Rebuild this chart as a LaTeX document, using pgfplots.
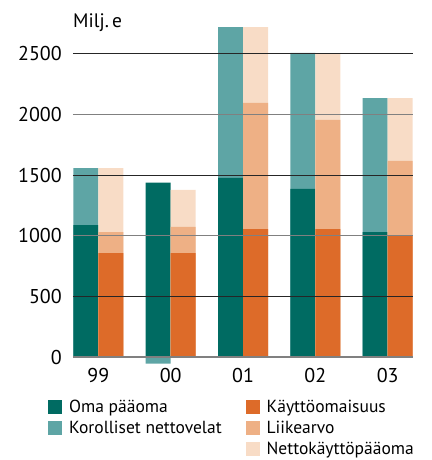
\documentclass[border=0pt]{standalone}
\usepackage{pgfplots}
\pgfplotsset{compat=1.18}
\usepackage{fontspec}
\setmainfont{PT Sans}
\definecolor{dteal}{HTML}{006B62}
\definecolor{lteal}{HTML}{5EA5A5}
\definecolor{orng}{HTML}{DD6B29}
\definecolor{lorng}{HTML}{EEB085}
\definecolor{peach}{HTML}{F8DCC6}
\begin{document}
\begin{tikzpicture}
\useasboundingbox (-73pt,-95.7pt) rectangle (358pt,364.3pt);
\begin{axis}[
  at={(0,0)}, anchor=south west,
  scale only axis, width=340pt, height=340.9pt,
  xmin=-0.35, xmax=4.35, ymin=-60, ymax=2750,
  axis line style={draw=none},
  major tick length=0pt,
  xtick={0,1,2,3,4}, xticklabels={99,00,01,02,03},
  ytick={500,1500,2500},
  extra y ticks={0,1000,2000},
  ymajorgrids,
  grid style={black!85, line width=0.9pt},
  extra y tick style={grid style={black!50, line width=1.3pt}},
  axis on top,
  /pgf/number format/assume math mode=true,
  /pgf/number format/1000 sep={},
  ticklabel style={font=\fontsize{20}{22}\selectfont},
  yticklabel style={inner sep=0pt, anchor=east, xshift=-11pt},
  xticklabel style={inner sep=0pt, anchor=north, yshift=-4pt},
  legend columns=2,
  legend cell align=left,
  legend image code/.code={\fill[#1] (0pt,-7pt) rectangle (14pt,7pt);},
  legend style={at={(axis description cs:0,0)}, anchor=north west,
    xshift=-25pt, yshift=-34pt, draw=none, fill=none, inner sep=0pt,
    font=\fontsize{17.5}{20}\selectfont, row sep=3pt,
    /tikz/every odd column/.append style={column sep=5pt},
    /tikz/every even column/.append style={column sep=22pt}},
]
% left bars: totals (light teal) then Oma paaoma (dark teal)
\addplot[ybar, bar width=25pt, bar shift=-12.5pt, fill=lteal, draw=none, forget plot]
  coordinates {(0,1558) (1,-55) (2,2720) (3,2506) (4,2135)};
\addplot[ybar, bar width=25pt, bar shift=-12.5pt, fill=dteal, draw=none, forget plot]
  coordinates {(0,1088) (1,1437) (2,1476) (3,1385) (4,1030)};
% right bars: cumulative totals
\addplot[ybar, bar width=25pt, bar shift=12.5pt, fill=peach, draw=none, forget plot]
  coordinates {(0,1558) (1,1377) (2,2720) (3,2500) (4,2135)};
\addplot[ybar, bar width=25pt, bar shift=12.5pt, fill=lorng, draw=none, forget plot]
  coordinates {(0,1030) (1,1072) (2,2094) (3,1954) (4,1616)};
\addplot[ybar, bar width=25pt, bar shift=12.5pt, fill=orng, draw=none, forget plot]
  coordinates {(0,857) (1,857) (2,1055) (3,1055) (4,997)};
% legend
\addlegendimage{fill=dteal, draw=none}
\addlegendentry{Oma pääoma}
\addlegendimage{fill=orng, draw=none}
\addlegendentry{Käyttöomaisuus}
\addlegendimage{fill=lteal, draw=none}
\addlegendentry{Korolliset nettovelat}
\addlegendimage{fill=lorng, draw=none}
\addlegendentry{Liikearvo}
\addlegendimage{empty legend}
\addlegendentry{}
\addlegendimage{fill=peach, draw=none}
\addlegendentry{Nettokäyttöpääoma}
\end{axis}
\node[anchor=base west, inner sep=0pt, font=\fontsize{19.5}{22}\selectfont]
  at (0pt,336.3pt) {Milj.\,e};
\end{tikzpicture}
\end{document}
